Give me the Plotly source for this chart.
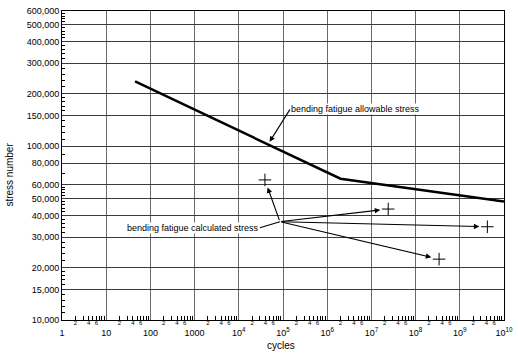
import numpy as np
import plotly.graph_objects as go

# ---- data ----
allow_cycles = [45, 2.0e6, 1.0e10]
allow_stress = [236000, 65000, 48000]

calc_cycles = [3.9e4, 2.4e7, 4.2e9, 3.4e8]
calc_stress = [64000, 43500, 34400, 22400]

hub_cycles = 8.5e4
hub_stress = 36800

y_ticks = [10000, 15000, 20000, 30000, 40000, 50000, 60000, 80000,
           100000, 150000, 200000, 300000, 400000, 500000, 600000]
y_minor = [11000, 12000, 13000, 14000, 16000, 17000, 18000, 19000,
           22000, 24000, 26000, 28000, 32000, 34000, 36000, 38000,
           42000, 44000, 46000, 48000, 52000, 54000, 56000, 58000,
           70000, 90000, 110000, 120000, 130000, 140000,
           160000, 170000, 180000, 190000, 220000, 240000, 260000, 280000,
           320000, 340000, 360000, 380000, 420000, 440000, 460000, 480000,
           520000, 540000, 560000, 580000]
x_ticks = [10 ** k for k in range(0, 11)]
x_ticktext = ["1", "10", "100", "1000"] + ["10<sup>%d</sup>" % k for k in range(4, 11)]
x_minor = [d * 10 ** k for k in range(0, 10) for d in range(2, 10)]
x_minor_labels = [2, 4, 6]

font = "Liberation Sans, Arial, sans-serif"

fig = go.Figure()

fig.add_trace(go.Scatter(x=allow_cycles, y=allow_stress, mode="lines",
                         line=dict(color="black", width=2.5), showlegend=False,
                         hoverinfo="skip"))
fig.add_trace(go.Scatter(x=calc_cycles, y=calc_stress, mode="markers",
                         marker=dict(symbol="cross-thin", size=9,
                                     line=dict(color="black", width=1)),
                         showlegend=False, hoverinfo="skip"))

# tiny minor tick labels under the x axis
ml_x = [d * 10 ** k for k in range(0, 10) for d in x_minor_labels]
ml_t = [str(d) for k in range(0, 10) for d in x_minor_labels]
fig.add_trace(go.Scatter(x=ml_x, y=[y_ticks[0]] * len(ml_x), mode="text",
                         text=ml_t, textposition="bottom center",
                         textfont=dict(family=font, size=6, color="black"),
                         cliponaxis=False, showlegend=False, hoverinfo="skip"))

annotations = []
# arrows from hub to calculated points
for cx, cy in zip(calc_cycles, calc_stress):
    annotations.append(dict(
        x=np.log10(cx), y=np.log10(cy), xref="x", yref="y",
        ax=np.log10(hub_cycles), ay=np.log10(hub_stress), axref="x", ayref="y",
        showarrow=True, arrowhead=2, arrowsize=1, arrowwidth=1.1,
        arrowcolor="black", standoff=8, text=""))

annotations.append(dict(
    x=np.log10(hub_cycles), y=np.log10(hub_stress), xref="x", yref="y",
    ax=-20, ay=6, text="bending fatigue calculated stress", xanchor="right",
    showarrow=True, arrowhead=0, arrowwidth=1.1, arrowcolor="black",
    font=dict(family=font, size=9, color="black"), bgcolor="white", borderpad=0))

# point on allowable line for label arrow
lx = 4.66
ly = np.interp(lx, np.log10(allow_cycles), np.log10(allow_stress))
annotations.append(dict(
    x=lx, y=ly, xref="x", yref="y", ax=22, ay=-35,
    text="bending fatigue allowable stress", xanchor="left",
    showarrow=True, arrowhead=2, arrowsize=1, arrowwidth=1.1, arrowcolor="black",
    standoff=3, font=dict(family=font, size=9, color="black"),
    bgcolor="white", borderpad=0))

annotations.append(dict(x=-0.118, y=0.47, xref="paper", yref="paper",
                        xanchor="center", yanchor="middle",
                        text="stress number", textangle=-90, showarrow=False,
                        font=dict(family=font, size=10, color="black")))
annotations.append(dict(x=0.495, y=-0.081, xref="paper", yref="paper",
                        xanchor="center", yanchor="middle",
                        text="cycles", showarrow=False,
                        font=dict(family=font, size=10, color="black")))

fig.update_layout(
    width=518, height=358,
    margin=dict(l=62, r=14, t=11, b=38, autoexpand=False),
    paper_bgcolor="white", plot_bgcolor="white",
    font=dict(family=font, size=9, color="black"),
    annotations=annotations,
    xaxis=dict(type="log", range=[0, 10], tickvals=x_ticks, ticktext=x_ticktext,
               showgrid=True, gridcolor="#6a6a6a", gridwidth=1, automargin=False,
               showline=True, linecolor="black", linewidth=1, mirror=True,
               ticks="", ticklabelstandoff=4, zeroline=False,
               tickfont=dict(family=font, size=9, color="black"),
               minor=dict(tickvals=x_minor, ticks="inside", ticklen=4,
                          tickcolor="black", showgrid=False)),
    yaxis=dict(type="log", range=[4, np.log10(600000)], tickvals=y_ticks,
               ticktext=["{:,}".format(v) for v in y_ticks], automargin=False,
               showgrid=True, gridcolor="#3a3a3a", gridwidth=1,
               showline=True, linecolor="black", linewidth=1, mirror=True,
               ticks="", zeroline=False,
               tickfont=dict(family=font, size=9, color="black"),
               minor=dict(tickvals=y_minor, ticks="inside", ticklen=3,
                          tickcolor="black", showgrid=False)),
)

fig.write_html("out.html", config={"displayModeBar": False},
               post_script="document.body.style.margin='0';document.body.style.padding='0';")
